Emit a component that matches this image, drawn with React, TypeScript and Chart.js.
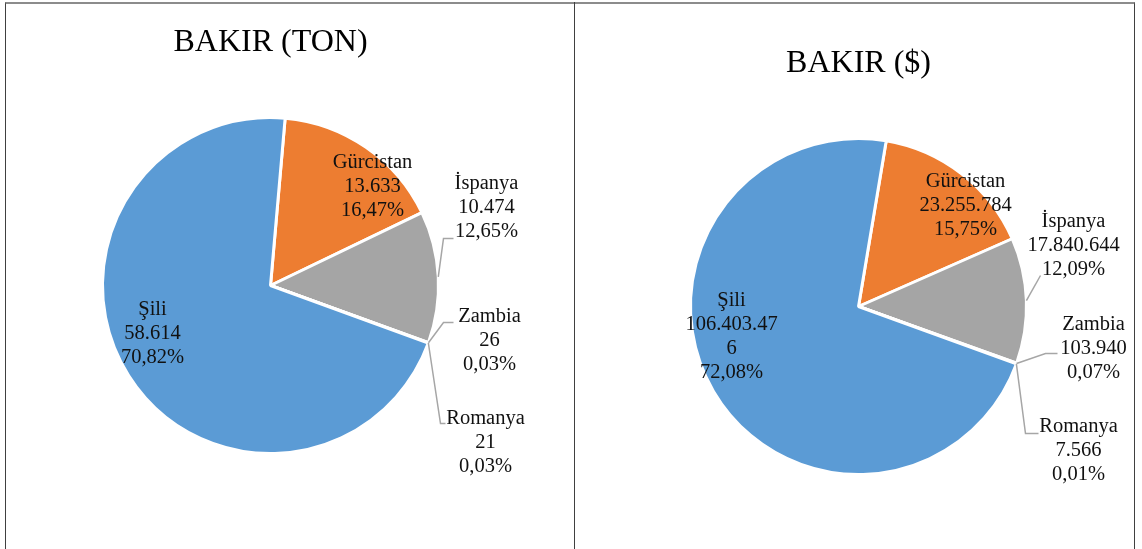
import React, { useEffect, useRef } from 'react';
import { Chart, registerables } from 'chart.js';

Chart.register(...registerables);

// ---- data ----
const countries = ['Gürcistan', 'İspanya', 'Zambia', 'Romanya', 'Şili'];
const tonValues = [13633, 10474, 26, 21, 58614];
const usdValues = [23255784, 17840644, 103940, 7566, 106403476];
const sliceColors = ['#ED7D31', '#A5A5A5', '#FFC000', '#4472C4', '#5B9BD5'];
const tonTitle = 'BAKIR (TON)';
const usdTitle = 'BAKIR ($)';

const FONT = '"Liberation Serif", "Times New Roman", serif';

function fmtNum(v: number): string {
  return String(v).replace(/\B(?=(\d{3})+(?!\d))/g, '.');
}
function fmtPct(v: number, total: number): string {
  return (v / total * 100).toFixed(2).replace('.', ',') + '%';
}

type Placement = {
  dx: number;
  dy: number;
  leader?: number[][];
  wrap?: number;
};

// label placement relative to pie centre (layout only)
const tonPlacements: Placement[] = [
  { dx: 102, dy: -99 },
  { dx: 216, dy: -78, leader: [[173, -47], [183, -47]] },
  { dx: 219, dy: 55, leader: [[173, 37], [183, 37]] },
  { dx: 215, dy: 157, leader: [[170, 138], [175, 138]] },
  { dx: -118, dy: 48 },
];
const usdPlacements: Placement[] = [
  { dx: 107, dy: -101 },
  { dx: 215, dy: -61, leader: [[182, -31]] },
  { dx: 235, dy: 42, leader: [[187, 47], [199, 47]] },
  { dx: 220, dy: 144, leader: [[167, 127], [180, 127]] },
  { dx: -127, dy: 30, wrap: 100 },
];

function makeLabelPlugin(placements: Placement[]) {
  return {
    id: 'sliceLabels',
    afterDatasetsDraw(chart: any) {
      const ctx = chart.ctx as CanvasRenderingContext2D;
      const meta = chart.getDatasetMeta(0);
      const data = chart.data.datasets[0].data as number[];
      const labels = chart.data.labels as string[];
      const total = data.reduce((a, b) => a + b, 0);
      ctx.save();
      ctx.font = `20.5px ${FONT}`;
      ctx.textAlign = 'center';
      ctx.textBaseline = 'middle';
      meta.data.forEach((arc: any, i: number) => {
        const p = arc.getProps(['x', 'y', 'startAngle', 'endAngle', 'outerRadius'], true);
        const cfg = placements[i];
        const cx = p.x;
        const cy = p.y;
        if (cfg.leader) {
          const mid = (p.startAngle + p.endAngle) / 2;
          ctx.beginPath();
          ctx.strokeStyle = '#A6A6A6';
          ctx.lineWidth = 1.5;
          ctx.moveTo(cx + p.outerRadius * Math.cos(mid), cy + p.outerRadius * Math.sin(mid));
          cfg.leader.forEach((pt) => ctx.lineTo(cx + pt[0], cy + pt[1]));
          ctx.stroke();
        }
        let lines = [labels[i], fmtNum(data[i]), fmtPct(data[i], total)];
        if (cfg.wrap) {
          const out: string[] = [];
          lines.forEach((ln) => {
            let cur = '';
            for (const ch of ln) {
              if (cur && ctx.measureText(cur + ch).width > (cfg.wrap as number)) {
                out.push(cur);
                cur = ch;
              } else cur += ch;
            }
            out.push(cur);
          });
          lines = out;
        }
        const lh = 24;
        ctx.fillStyle = '#111';
        lines.forEach((ln, k) => {
          ctx.fillText(ln, cx + cfg.dx, cy + cfg.dy + (k - (lines.length - 1) / 2) * lh);
        });
      });
      ctx.restore();
    },
  };
}

type PanelProps = {
  width: number;
  height: number;
  title: string;
  values: number[];
  rotation: number;
  padding: { left: number; right: number; bottom: number };
  titlePad: { top: number; bottom: number };
  placements: Placement[];
};

function PiePanel(props: PanelProps) {
  const ref = useRef<HTMLCanvasElement | null>(null);
  useEffect(() => {
    if (!ref.current) return;
    const chart = new Chart(ref.current, {
      type: 'pie',
      data: {
        labels: countries,
        datasets: [
          {
            data: props.values,
            backgroundColor: sliceColors,
            borderColor: '#FFFFFF',
            borderWidth: 3,
          },
        ],
      },
      options: {
        responsive: false,
        animation: false,
        rotation: props.rotation,
        layout: { padding: { left: props.padding.left, right: props.padding.right, top: 0, bottom: props.padding.bottom } },
        plugins: {
          legend: { display: false },
          tooltip: { enabled: false },
          title: {
            display: true,
            text: props.title,
            color: '#000',
            font: { family: FONT, size: 32, weight: 'normal' as any, lineHeight: 1.2 },
            padding: { top: props.titlePad.top, bottom: props.titlePad.bottom },
          },
        },
      },
      plugins: [makeLabelPlugin(props.placements)],
    });
    return () => chart.destroy();
  }, []);
  return <canvas ref={ref} width={props.width} height={props.height} style={{ display: 'block' }} />;
}

export default function App() {
  return (
    <div style={{ position: 'fixed', left: 0, top: 0, width: 1142, height: 549, background: '#fff', overflow: 'hidden' }}>
      <div style={{ position: 'absolute', left: 0, top: 0 }}>
        <PiePanel
          width={574}
          height={549}
          title={tonTitle}
          values={tonValues}
          rotation={5}
          padding={{ left: 101, right: 134, bottom: 94 }}
          titlePad={{ top: 23.5, bottom: 54.1 }}
          placements={tonPlacements}
        />
      </div>
      <div style={{ position: 'absolute', left: 574, top: 0 }}>
        <PiePanel
          width={568}
          height={549}
          title={usdTitle}
          values={usdValues}
          rotation={9.5}
          padding={{ left: 115, right: 114, bottom: 73 }}
          titlePad={{ top: 44, bottom: 54.6 }}
          placements={usdPlacements}
        />
      </div>
      <div
        style={{
          position: 'absolute',
          left: 5,
          top: 2,
          width: 1130,
          height: 600,
          borderLeft: '1px solid #404040',
          borderRight: '1px solid #404040',
          borderTop: '2px solid #8C8C8C',
          boxSizing: 'border-box',
          pointerEvents: 'none',
        }}
      />
      <div style={{ position: 'absolute', left: 574, top: 2, width: 1, height: 547, background: '#404040' }} />
    </div>
  );
}
